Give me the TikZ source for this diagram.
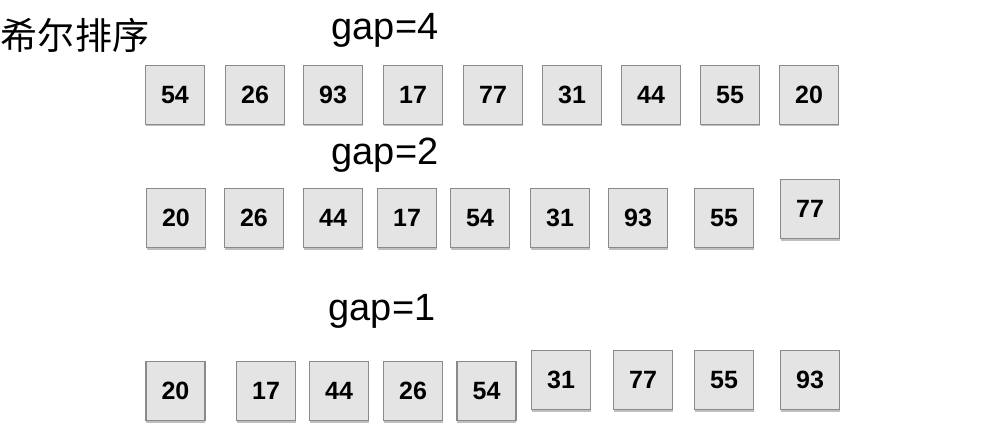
\documentclass[tikz,border=0pt]{standalone}
\usepackage{fontspec}
\setmainfont{Liberation Sans}
\newfontfamily\cjk{Noto Sans CJK SC}
\usetikzlibrary{shadows}
\definecolor{boxfill}{HTML}{E4E4E4}
\definecolor{boxline}{HTML}{8A8A8A}
\begin{document}
\begin{tikzpicture}[x=1pt,y=-1pt,
  cell/.style={draw=boxline, line width=1.5pt, fill=boxfill, minimum width=59pt, minimum height=59pt, inner sep=0pt,
     font=\fontsize{25}{25}\selectfont\bfseries,
     drop shadow={shadow xshift=0pt, shadow yshift=-2pt, opacity=0.25, fill=black}},
  gaplabel/.style={font=\fontsize{38}{38}\selectfont, inner sep=0pt}]
\useasboundingbox[fill=white] (0,0) rectangle (984,430);
\node[font=\cjk\fontsize{37}{37}\selectfont, inner sep=0pt] (title) at (75,35) {希尔排序};
\node[gaplabel] (g4) at (385,30) {gap=4};
\node[gaplabel] (g2) at (385,155) {gap=2};
\node[gaplabel] (g1) at (382,311) {gap=1};
% row 1
\node[cell] (a1) at (175,95) {54};
\node[cell] (a2) at (255,95) {26};
\node[cell] (a3) at (333,95) {93};
\node[cell] (a4) at (413,95) {17};
\node[cell] (a5) at (493,95) {77};
\node[cell] (a6) at (572,95) {31};
\node[cell] (a7) at (651,95) {44};
\node[cell] (a8) at (730,95) {55};
\node[cell] (a9) at (809,95) {20};
% row 2
\node[cell] (b1) at (176,218) {20};
\node[cell] (b2) at (254,218) {26};
\node[cell] (b3) at (333,218) {44};
\node[cell] (b4) at (407,218) {17};
\node[cell] (b5) at (480,218) {54};
\node[cell] (b6) at (560,218) {31};
\node[cell] (b7) at (638,218) {93};
\node[cell] (b8) at (724,218) {55};
\node[cell] (b9) at (810,209) {77};
% row 3
\node[cell] (c1) at (175.5,391) {20};
\node[cell] (c2) at (266,391) {17};
\node[cell] (c3) at (339,391) {44};
\node[cell] (c4) at (413,391) {26};
\node[cell] (c5) at (486.5,391) {54};
\node[cell] (c6) at (561,380) {31};
\node[cell] (c7) at (643,380) {77};
\node[cell] (c8) at (724,380) {55};
\node[cell] (c9) at (810,380) {93};
\end{tikzpicture}
\end{document}
